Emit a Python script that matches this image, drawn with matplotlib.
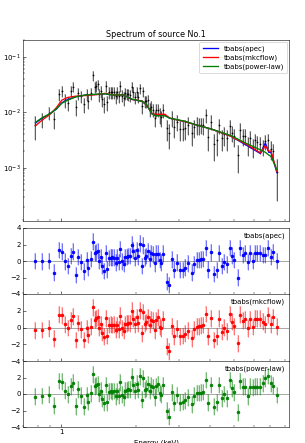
import matplotlib
matplotlib.use("Agg")
import matplotlib.pyplot as plt
from matplotlib.ticker import NullFormatter, FixedLocator, FixedFormatter, LogLocator

# ---------------- data ----------------
energy = [0.782, 0.834, 0.887, 0.935, 0.976, 1.003, 1.031, 1.060, 1.090, 1.110,
          1.141, 1.169, 1.195, 1.228, 1.263, 1.286, 1.318, 1.343, 1.363, 1.385,
          1.402, 1.423, 1.441, 1.463, 1.486, 1.509, 1.532, 1.556, 1.580, 1.605,
          1.629, 1.655, 1.680, 1.706, 1.733, 1.760, 1.786, 1.814, 1.842, 1.865,
          1.894, 1.923, 1.953, 1.983, 2.014, 2.045, 2.076, 2.109, 2.141, 2.175,
          2.208, 2.242, 2.277, 2.312, 2.348, 2.384, 2.421, 2.459, 2.497, 2.535,
          2.575, 2.671, 2.721, 2.805, 2.866, 2.946, 3.029, 3.105, 3.172, 3.261,
          3.363, 3.446, 3.521, 3.597, 3.664, 3.755, 3.837, 3.932, 4.030, 4.143,
          4.246, 4.352, 4.446, 4.557, 4.670, 4.800, 4.920, 5.012, 5.169, 5.297,
          5.429, 5.546, 5.666, 5.771, 5.934, 6.081, 6.214, 6.368, 6.527, 6.689,
          6.855, 7.025, 7.200, 7.425]

flux = [0.0058, 0.0075, 0.0098, 0.0075, 0.0210, 0.0240, 0.0165, 0.0146, 0.0240, 0.0290,
        0.0125, 0.0220, 0.0195, 0.0140, 0.0210, 0.0160, 0.0220, 0.0460, 0.0290, 0.0300,
        0.0320, 0.0210, 0.0240, 0.0170, 0.0140, 0.0300, 0.0150, 0.0230, 0.0230, 0.0230,
        0.0230, 0.0193, 0.0230, 0.0195, 0.0300, 0.0200, 0.0180, 0.0220, 0.0215, 0.0210,
        0.0205, 0.0290, 0.0235, 0.0188, 0.0230, 0.0190, 0.0270, 0.0130, 0.0240, 0.0160,
        0.0160, 0.0165, 0.0115, 0.0125, 0.0112, 0.0080, 0.0112, 0.0112, 0.0089, 0.0081,
        0.0110, 0.0052, 0.0042, 0.0080, 0.0055, 0.0068, 0.0050, 0.0050, 0.0052, 0.0060,
        0.0043, 0.0054, 0.0060, 0.0059, 0.0060, 0.0059, 0.0088, 0.0036, 0.0068, 0.0027,
        0.0031, 0.0058, 0.0034, 0.0040, 0.0034, 0.0056, 0.0043, 0.0037, 0.0017, 0.0048,
        0.0037, 0.0038, 0.0026, 0.0034, 0.0024, 0.0031, 0.0029, 0.0027, 0.0024, 0.0030,
        0.0031, 0.0022, 0.0020, 0.00085]

flux_err = [0.0026, 0.0022, 0.0024, 0.0025, 0.0050, 0.0055, 0.0045, 0.0040, 0.0055, 0.0060,
            0.0040, 0.0055, 0.0050, 0.0042, 0.0052, 0.0045, 0.0055, 0.0090, 0.0065, 0.0065,
            0.0068, 0.0055, 0.0058, 0.0048, 0.0045, 0.0065, 0.0045, 0.0055, 0.0055, 0.0055,
            0.0055, 0.0050, 0.0055, 0.0050, 0.0065, 0.0050, 0.0048, 0.0052, 0.0052, 0.0050,
            0.0050, 0.0060, 0.0052, 0.0045, 0.0050, 0.0045, 0.0055, 0.0038, 0.0050, 0.0040,
            0.0040, 0.0038, 0.0032, 0.0032, 0.0030, 0.0026, 0.0030, 0.0030, 0.0028, 0.0026,
            0.0030, 0.0022, 0.0020, 0.0026, 0.0021, 0.0023, 0.0020, 0.0020, 0.0020, 0.0021,
            0.0018, 0.0020, 0.0021, 0.0020, 0.0020, 0.0020, 0.0025, 0.0016, 0.0021, 0.0014,
            0.0015, 0.0018, 0.0014, 0.0015, 0.0014, 0.0017, 0.0014, 0.0013, 0.0009, 0.0015,
            0.0012, 0.0012, 0.0010, 0.0011, 0.0009, 0.0010, 0.0009, 0.0009, 0.0008, 0.0009,
            0.0009, 0.0008, 0.0007, 0.0006]

model_energy = [0.785, 0.837, 0.895, 0.952, 1.003, 1.060, 1.145, 1.255, 1.419, 1.509,
                1.605, 1.786, 1.842, 1.929, 2.115, 2.215, 2.319, 2.391, 2.622, 2.746,
                3.153, 3.565, 4.031, 4.846, 5.649, 6.388, 6.689, 6.900, 7.047, 7.447]
model_apec = [0.0064, 0.0079, 0.0093, 0.0113, 0.0148, 0.0170, 0.0190, 0.0205, 0.0210, 0.0215,
              0.0205, 0.0205, 0.0190, 0.0170, 0.0158, 0.0135, 0.0095, 0.0090, 0.0089, 0.0078,
              0.0068, 0.0058, 0.0050, 0.0037, 0.0025, 0.0018, 0.0028, 0.0019, 0.0019, 0.00082]
model_mkcflow = [0.0057, 0.0073, 0.0090, 0.0120, 0.0165, 0.0185, 0.0195, 0.0200, 0.0210, 0.0220,
                 0.0205, 0.0205, 0.0190, 0.0170, 0.0160, 0.0133, 0.0096, 0.0092, 0.0092, 0.0078,
                 0.0068, 0.0058, 0.0050, 0.0037, 0.0026, 0.00185, 0.0025, 0.0020, 0.0020, 0.00085]
model_powerlaw = [0.0066, 0.0080, 0.0093, 0.0115, 0.0145, 0.0165, 0.0190, 0.0205, 0.0213, 0.0215,
                  0.0205, 0.0205, 0.0190, 0.0172, 0.0158, 0.0135, 0.0095, 0.0087, 0.0086, 0.0078,
                  0.0069, 0.0058, 0.0050, 0.0038, 0.0027, 0.0021, 0.0019, 0.0017, 0.0016, 0.00092]

resid_apec = [0.0, -0.05, 0.0, -1.4, 1.35, 1.15, -0.05, -0.6, 0.6, 1.15,
              -1.7, 0.5, -0.1, -1.25, 0.1, -0.8, 0.25, 2.35, 1.0, 1.05,
              1.2, 0.0, 0.45, -0.6, -1.2, 1.0, -1.0, 0.35, 0.4, 0.45,
              0.4, -0.2, 0.4, -0.1, 1.45, -0.05, -0.35, 0.45, 0.5, 0.6,
              0.6, 2.0, 1.25, 0.4, 1.3, 0.55, 2.1, -0.6, 1.9, 0.4,
              0.6, 1.2, 0.3, 0.95, 0.8, -0.3, 0.9, 0.9, 0.1, -0.2,
              0.9, -2.5, -2.9, 0.2, -1.05, -0.2, -1.1, -1.1, -0.8, -0.3,
              -1.4, -0.4, 0.1, 0.1, 0.2, 0.25, 1.6, -1.05, 1.05, -1.55,
              -1.1, 1.0, -0.6, -0.1, -0.4, 1.6, 0.65, 0.15, -2.0, 1.6,
              0.7, 1.0, -0.1, 0.95, 0.0, 1.0, 1.0, 1.0, 0.7, 0.7,
              1.6, 0.5, 1.1, 0.0]
resid_mkcflow = [-0.35, -0.3, -0.1, -1.35, 1.55, 1.45, 0.4, -0.05, 0.9, 1.35,
                 -1.5, 0.55, -0.2, -1.5, -0.1, -0.85, 0.1, 2.4, 0.95, 1.1,
                 1.2, 0.0, 0.4, -0.6, -1.1, 1.1, -1.0, 0.3, 0.35, 0.3,
                 0.35, -0.25, 0.3, -0.2, 1.4, -0.05, -0.4, 0.4, 0.45, 0.55,
                 0.5, 2.0, 1.05, 0.4, 1.2, 0.5, 2.05, -0.7, 1.85, 0.45,
                 0.65, 1.2, 0.35, 0.95, 0.8, -0.35, 0.9, 1.2, 0.1, -0.1,
                 1.0, -2.3, -2.85, 0.15, -1.05, -0.15, -1.05, -1.0, -0.75, -0.4,
                 -1.3, -0.2, 0.1, 0.15, 0.2, 0.3, 1.6, -1.05, 1.1, -1.5,
                 -1.05, 1.05, -0.55, 0.0, -0.45, 1.6, 0.7, 0.15, -1.9, 1.55,
                 0.8, 1.0, -0.1, 1.0, 0.05, 1.05, 1.05, 1.05, 0.7, 0.4,
                 1.5, 0.4, 1.2, 0.1]
resid_powerlaw = [-0.32, -0.24, -0.08, -1.41, 1.58, 1.5, 0.4, -0.04, 0.93, 1.37,
                  -1.5, 0.57, -0.2, -1.54, -0.16, -0.93, 0.08, 2.38, 0.93, 1.05,
                  1.17, 0.0, 0.4, -0.6, -1.09, 1.09, -1.0, 0.28, 0.36, 0.28,
                  0.36, -0.28, 0.32, -0.24, 1.41, -0.08, -0.4, 0.4, 0.48, 0.57,
                  0.53, 2.1, 1.09, 0.4, 1.25, 0.53, 2.14, -0.69, 1.9, 0.48,
                  0.65, 1.21, 0.36, 1.01, 0.81, -0.4, 0.93, 1.21, 0.12, -0.08,
                  1.05, -2.02, -2.75, 0.2, -1.05, -0.12, -1.05, -0.97, -0.77, -0.4,
                  -1.25, -0.2, 0.12, 0.12, 0.16, 0.24, 1.7, -1.05, 1.09, -1.54,
                  -1.0, 1.09, -0.53, 0.0, -0.53, 1.7, 0.69, 0.2, -2.22, 1.58,
                  0.89, 0.89, -0.28, 0.89, 0.81, 0.89, 0.89, 0.89, 1.29, 1.9,
                  2.18, 1.29, 1.01, -0.12]

model_labels = ["tbabs(apec)", "tbabs(mkcflow)", "tbabs(power-law)"]
model_colors = ["blue", "red", "green"]
resid_ticks = [-4, -2, 0, 2, 4]
title_text = "Spectrum of source No.1"
ylabel_text = "Photons cm$^{-2}$ s$^{-1}$ keV$^{-1}$"
xlabel_text = "Energy (keV)"

# ---------------- figure ----------------
W, H = 305, 443
fig = plt.figure(figsize=(W / 50, H / 50), dpi=50)

def frac(x0, y0, x1, y1):
    return [x0 / W, 1 - y1 / H, (x1 - x0) / W, (y1 - y0) / H]

ax = fig.add_axes(frac(23, 40, 289, 221))
r_axes = [fig.add_axes(frac(23, 228, 289, 294), sharex=ax),
          fig.add_axes(frac(23, 294, 289, 361), sharex=ax),
          fig.add_axes(frac(23, 361, 289, 427), sharex=ax)]

# top panel data
ax.errorbar(energy, flux, yerr=flux_err, fmt="none", ecolor="0.55",
            elinewidth=2.2, alpha=0.45, zorder=2)
ax.errorbar(energy, flux, yerr=flux_err, fmt=".", color="black", ms=3,
            ecolor="black", elinewidth=0.8, zorder=3)
for vals, lab, col in zip([model_apec, model_mkcflow, model_powerlaw],
                          model_labels, model_colors):
    ax.plot(model_energy, vals, color=col, lw=1.9, label=lab, zorder=4)

ax.set_xscale("log")
ax.set_yscale("log")
ax.set_ylim(1.1e-4, 0.2)
ax.set_title(title_text, fontsize=11.5, pad=4)
ax.legend(loc="upper right", fontsize=10, handlelength=2.2, borderpad=0.45,
          labelspacing=0.4, framealpha=1.0, borderaxespad=0.3)
ax.set_ylabel(ylabel_text, fontsize=10, color="0.6")
ax.yaxis.set_label_coords(-0.175, 0.5)

resids = [resid_apec, resid_mkcflow, resid_powerlaw]
for i, (rax, res, lab, col) in enumerate(zip(r_axes, resids, model_labels, model_colors)):
    rax.axhline(0, color="0.6", lw=1.2, zorder=1)
    rax.errorbar(energy, res, yerr=1.0, fmt="none", ecolor=col,
                 elinewidth=2.4, alpha=0.22, zorder=2)
    rax.errorbar(energy, res, yerr=1.0, fmt="none", ecolor=col,
                 elinewidth=0.9, alpha=0.7, zorder=3)
    rax.plot(energy, res, "o", color=col, ms=4, zorder=4)
    rax.set_ylim(-4, 4)
    rax.set_yticks(resid_ticks)
    if i > 0:
        rax.set_yticklabels(["\u22124", "\u22122", "0", "2", ""])
    rax.text(0.985, 0.93, lab, transform=rax.transAxes, ha="right", va="top",
             fontsize=10)

for a in [ax] + r_axes:
    a.tick_params(direction="in", which="both", labelsize=10)
    a.tick_params(which="major", length=4)
    a.tick_params(which="minor", length=2.5)
    a.xaxis.set_major_locator(FixedLocator([1]))
    a.xaxis.set_major_formatter(FixedFormatter(["1"]))
    a.xaxis.set_minor_locator(LogLocator(base=10, subs=range(2, 10)))
    a.xaxis.set_minor_formatter(NullFormatter())

for a in [ax] + r_axes[:2]:
    a.tick_params(labelbottom=False)

r_axes[-1].set_xlabel(xlabel_text, fontsize=10, labelpad=6)

fig.savefig("out.png", dpi=50)
